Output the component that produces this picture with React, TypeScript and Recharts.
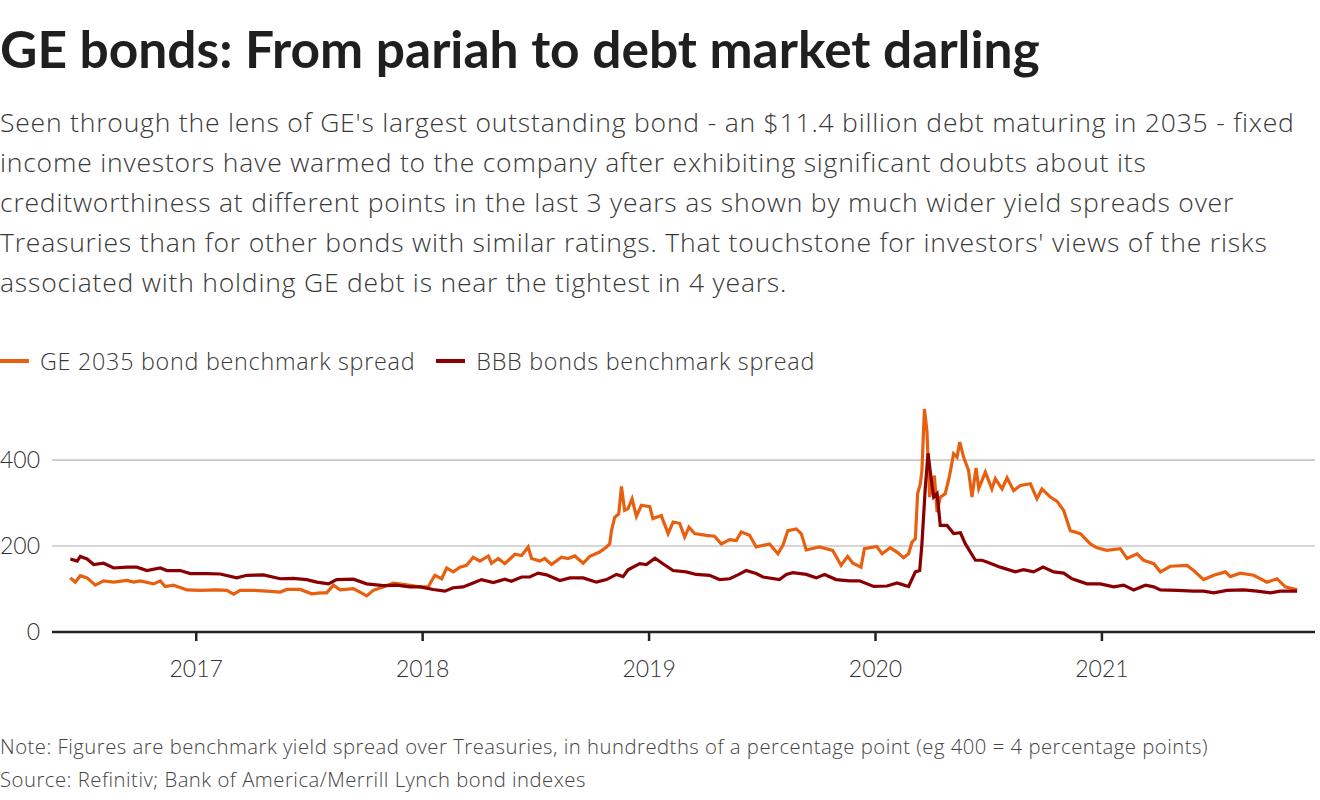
import { LineChart, Line, CartesianGrid, XAxis, YAxis } from 'recharts';

// GE 2035 bond spread over Treasuries (bp)
const geYears = [
  2016.444, 2016.466, 2016.488, 2016.518, 2016.554, 2016.591, 2016.635, 2016.694, 2016.724, 2016.753,
  2016.812, 2016.841, 2016.863, 2016.9, 2016.959, 2017.018, 2017.091, 2017.135, 2017.165, 2017.194,
  2017.253, 2017.312, 2017.371, 2017.4, 2017.459, 2017.51, 2017.547, 2017.576, 2017.606, 2017.635,
  2017.694, 2017.723, 2017.753, 2017.782, 2017.826, 2017.87, 2017.929, 2017.988, 2018.025, 2018.04,
  2018.054, 2018.084, 2018.106, 2018.135, 2018.165, 2018.194, 2018.223, 2018.253, 2018.29, 2018.304,
  2018.334, 2018.363, 2018.407, 2018.437, 2018.466, 2018.481, 2018.517, 2018.539, 2018.569, 2018.613,
  2018.642, 2018.672, 2018.709, 2018.738, 2018.782, 2018.812, 2018.826, 2018.834, 2018.848, 2018.866,
  2018.878, 2018.892, 2018.907, 2018.925, 2018.944, 2018.966, 2019.003, 2019.017, 2019.054, 2019.084,
  2019.106, 2019.135, 2019.157, 2019.176, 2019.201, 2019.253, 2019.289, 2019.319, 2019.356, 2019.385,
  2019.407, 2019.444, 2019.473, 2019.532, 2019.569, 2019.591, 2019.613, 2019.65, 2019.672, 2019.694,
  2019.752, 2019.811, 2019.848, 2019.877, 2019.9, 2019.936, 2019.951, 2020.006, 2020.029, 2020.065,
  2020.095, 2020.124, 2020.146, 2020.161, 2020.176, 2020.186, 2020.198, 2020.205, 2020.216, 2020.227,
  2020.239, 2020.249, 2020.26, 2020.272, 2020.286, 2020.308, 2020.327, 2020.345, 2020.36, 2020.372,
  2020.389, 2020.411, 2020.426, 2020.444, 2020.456, 2020.485, 2020.514, 2020.529, 2020.559, 2020.581,
  2020.61, 2020.64, 2020.684, 2020.713, 2020.735, 2020.772, 2020.802, 2020.831, 2020.86, 2020.905,
  2020.949, 2020.978, 2021.022, 2021.081, 2021.111, 2021.155, 2021.184, 2021.229, 2021.258, 2021.302,
  2021.376, 2021.405, 2021.449, 2021.494, 2021.545, 2021.567, 2021.611, 2021.67, 2021.729, 2021.773,
  2021.81, 2021.862,
];
const geSpread = [
  126, 116, 131, 126, 109, 119, 116, 120, 116, 119,
  112, 119, 106, 109, 98, 97, 98, 97, 88, 97,
  97, 95, 93, 99, 99, 89, 91, 91, 109, 98,
  101, 93, 84, 97, 105, 114, 110, 105, 105, 120,
  132, 124, 149, 140, 151, 155, 174, 165, 177, 160,
  171, 159, 181, 178, 198, 171, 165, 171, 157, 174,
  171, 177, 160, 176, 186, 198, 205, 236, 267, 275,
  339, 283, 287, 310, 269, 295, 292, 264, 271, 229,
  256, 253, 221, 244, 229, 225, 223, 205, 215, 213,
  233, 225, 198, 205, 182, 202, 236, 240, 229, 191,
  198, 190, 155, 176, 160, 151, 194, 199, 182, 196,
  186, 173, 182, 209, 217, 322, 345, 376, 519, 469,
  314, 345, 364, 279, 314, 322, 364, 415, 407, 442,
  407, 376, 314, 382, 334, 372, 333, 357, 333, 359,
  329, 341, 345, 310, 333, 314, 304, 283, 236, 229,
  205, 196, 190, 194, 171, 182, 167, 159, 140, 153,
  155, 143, 122, 132, 140, 129, 137, 132, 116, 124,
  105, 98,
];

// BBB bond index spread (bp)
const bbbYears = [
  2016.444, 2016.474, 2016.488, 2016.518, 2016.547, 2016.591, 2016.635, 2016.694, 2016.738, 2016.782,
  2016.841, 2016.871, 2016.929, 2016.974, 2017.047, 2017.106, 2017.179, 2017.224, 2017.297, 2017.371,
  2017.429, 2017.488, 2017.532, 2017.584, 2017.62, 2017.694, 2017.753, 2017.826, 2017.885, 2017.944,
  2017.988, 2018.047, 2018.098, 2018.135, 2018.179, 2018.223, 2018.26, 2018.312, 2018.363, 2018.392,
  2018.437, 2018.473, 2018.51, 2018.547, 2018.606, 2018.65, 2018.709, 2018.767, 2018.812, 2018.856,
  2018.885, 2018.907, 2018.959, 2018.988, 2019.026, 2019.061, 2019.106, 2019.164, 2019.208, 2019.267,
  2019.311, 2019.356, 2019.392, 2019.429, 2019.473, 2019.503, 2019.576, 2019.606, 2019.635, 2019.694,
  2019.738, 2019.775, 2019.826, 2019.885, 2019.929, 2019.992, 2020.051, 2020.095, 2020.146, 2020.176,
  2020.195, 2020.205, 2020.22, 2020.232, 2020.245, 2020.257, 2020.272, 2020.286, 2020.316, 2020.345,
  2020.375, 2020.397, 2020.441, 2020.47, 2020.492, 2020.551, 2020.617, 2020.654, 2020.698, 2020.74,
  2020.787, 2020.831, 2020.868, 2020.934, 2020.993, 2021.052, 2021.096, 2021.14, 2021.192, 2021.229,
  2021.258, 2021.332, 2021.405, 2021.449, 2021.494, 2021.552, 2021.626, 2021.685, 2021.744, 2021.788,
  2021.862,
];
const bbbSpread = [
  170, 165, 176, 170, 157, 160, 149, 151, 151, 143,
  149, 143, 143, 136, 136, 135, 126, 132, 133, 124,
  125, 122, 116, 112, 122, 123, 112, 108, 109, 105,
  105, 99, 95, 103, 105, 114, 122, 115, 123, 118,
  128, 128, 137, 133, 120, 126, 126, 116, 122, 134,
  129, 145, 159, 157, 172, 159, 143, 140, 134, 132,
  122, 124, 133, 143, 136, 128, 122, 134, 138, 134,
  126, 134, 122, 119, 119, 106, 107, 114, 106, 140,
  143, 205, 337, 416, 360, 314, 322, 248, 248, 229,
  231, 205, 167, 167, 163, 151, 140, 145, 140, 151,
  140, 137, 124, 112, 112, 105, 109, 98, 109, 105,
  98, 97, 95, 95, 91, 97, 98, 95, 91, 95,
  95,
];

const yearTicks = [2017, 2018, 2019, 2020, 2021];
const spreadTicks = [0, 200, 400];

const subtitleLines = [
  "Seen through the lens of GE's largest outstanding bond - an $11.4 billion debt maturing in 2035 - fixed",
  'income investors have warmed to the company after exhibiting significant doubts about its',
  'creditworthiness at different points in the last 3 years as shown by much wider yield spreads over',
  "Treasuries than for other bonds with similar ratings. That touchstone for investors' views of the risks",
  'associated with holding GE debt is near the tightest in 4 years.',
];

const GE_COLOR = '#e8600f';
const BBB_COLOR = '#8a0000';
const TITLE_FONT = 'Lato, "Noto Sans", sans-serif';
const FONT = '"Open Sans", "Noto Sans", sans-serif';

const geData = geYears.map((t, i) => ({ t, v: geSpread[i] }));
const bbbData = bbbYears.map((t, i) => ({ t, v: bbbSpread[i] }));

const LegendItem = ({ color, label }: { color: string; label: string }) => (
  <div style={{ display: 'flex', alignItems: 'center', marginRight: 21 }}>
    <div style={{ width: 29, height: 4, background: color, marginRight: 11 }} />
    <span>{label}</span>
  </div>
);

export default function App() {
  return (
    <div
      style={{
        position: 'absolute',
        left: 0,
        top: 0,
        width: 1320,
        height: 800,
        background: '#fff',
        fontFamily: FONT,
        overflow: 'hidden',
      }}
    >
      <div
        style={{
          position: 'absolute',
          left: 0,
          top: 18,
          fontFamily: TITLE_FONT,
          fontSize: 51.5,
          fontWeight: 700,
          color: '#1f1f1f',
          lineHeight: '60px',
          whiteSpace: 'nowrap',
        }}
      >
        GE bonds: From pariah to debt market darling
      </div>
      <div
        style={{
          position: 'absolute',
          left: 0,
          top: 102,
          fontSize: 26.5,
          fontWeight: 300,
          letterSpacing: 0.8,
          color: '#383838',
          lineHeight: '40px',
          whiteSpace: 'nowrap',
        }}
      >
        {subtitleLines.map((l) => (
          <div key={l}>{l}</div>
        ))}
      </div>
      <div
        style={{
          position: 'absolute',
          left: 0,
          top: 344,
          display: 'flex',
          fontSize: 23.3,
          fontWeight: 300,
          letterSpacing: 0.75,
          color: '#383838',
          lineHeight: '34px',
        }}
      >
        <LegendItem color={GE_COLOR} label="GE 2035 bond benchmark spread" />
        <LegendItem color={BBB_COLOR} label="BBB bonds benchmark spread" />
      </div>

      <div style={{ position: 'absolute', left: 0, top: 380 }}>
        <LineChart width={1320} height={320} margin={{ top: 20, right: 5, bottom: 0, left: 0 }}>
          <CartesianGrid vertical={false} horizontalValues={[200, 400]} stroke="#c8c8c8" strokeWidth={1.6} />
          <XAxis
            type="number"
            dataKey="t"
            domain={[2016.363, 2021.941]}
            ticks={yearTicks}
            tickFormatter={(v) => String(v)}
            allowDataOverflow
            height={68}
            axisLine={{ stroke: '#222', strokeWidth: 2.5 }}
            tickLine={{ stroke: '#222', strokeWidth: 2.5 }}
            tickSize={9}
            tickMargin={20}
            tick={{ fill: '#333', fontSize: 23, fontWeight: 300, fontFamily: TITLE_FONT }}
          />
          <YAxis
            type="number"
            domain={[0, 540]}
            ticks={spreadTicks}
            allowDataOverflow
            width={52}
            axisLine={false}
            tickLine={false}
            tickSize={0}
            tickMargin={12}
            tick={{ fill: '#333', fontSize: 23, fontWeight: 300, fontFamily: TITLE_FONT }}
          />
          <Line
            data={geData}
            dataKey="v"
            type="linear"
            stroke={GE_COLOR}
            strokeWidth={3.2}
            dot={false}
            isAnimationActive={false}
          />
          <Line
            data={bbbData}
            dataKey="v"
            type="linear"
            stroke={BBB_COLOR}
            strokeWidth={3.2}
            dot={false}
            isAnimationActive={false}
          />
        </LineChart>
      </div>

      <div
        style={{
          position: 'absolute',
          left: 0,
          top: 730,
          fontSize: 20.3,
          fontWeight: 300,
          letterSpacing: 0.5,
          color: '#444',
          lineHeight: '33px',
          whiteSpace: 'nowrap',
        }}
      >
        <div>
          Note: Figures are benchmark yield spread over Treasuries, in hundredths of a percentage point (eg 400 = 4
          percentage points)
        </div>
        <div>Source: Refinitiv; Bank of America/Merrill Lynch bond indexes</div>
      </div>
    </div>
  );
}
